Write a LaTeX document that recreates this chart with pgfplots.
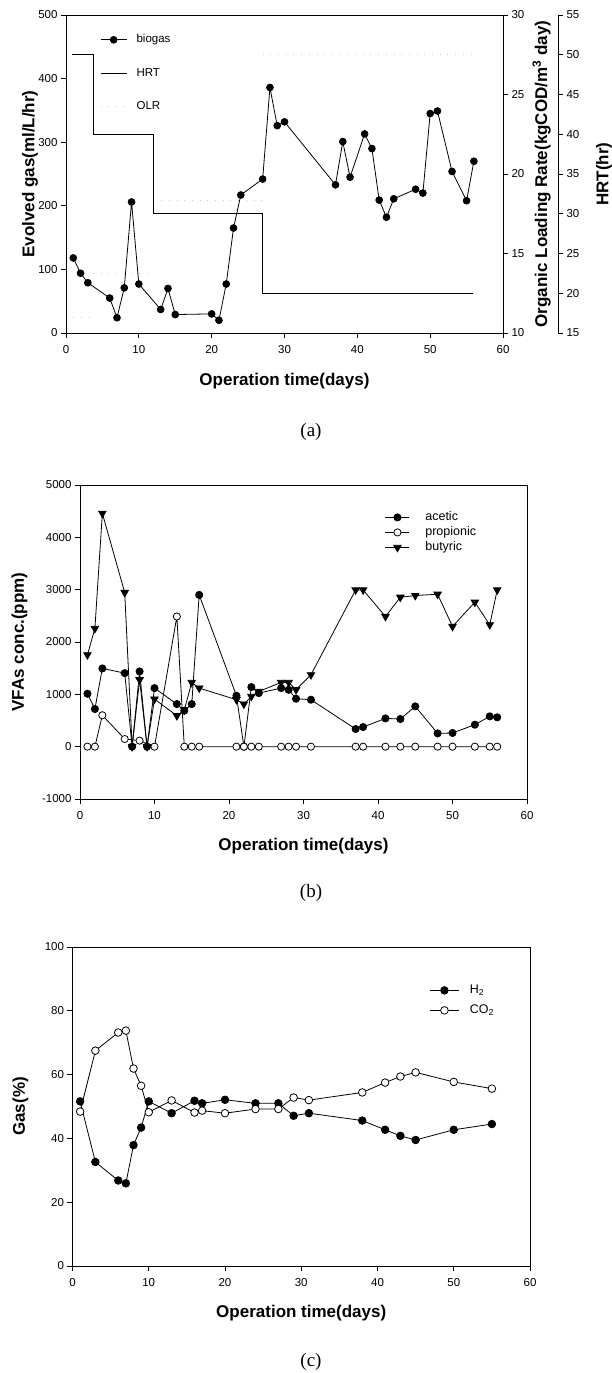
\documentclass[border=0pt]{standalone}
\usepackage{fontspec}
\setmainfont{Liberation Sans}
\newfontfamily\seriffont{Liberation Serif}
\usepackage{pgfplots}
\pgfplotsset{compat=1.18}

\pgfplotsset{
  panel/.style={
    scale only axis,
    anchor=south west,
    axis line style={line width=0.9pt},
    tick align=outside,
    major tick length=5pt,
    every tick/.style={black, line width=0.8pt},
    xtick pos=left, ytick pos=left,
    ticklabel style={font=\fontsize{11.5}{13}\selectfont},
    xticklabel style={yshift=-4pt},
    label style={font=\bfseries\fontsize{17}{20}\selectfont},
    /pgf/number format/assume math mode=true,
    legend cell align=left,
  },
  full/.style={black, line width=0.8pt, mark=*, mark size=3.5pt, mark options={solid, fill=black}},
  open/.style={black, line width=0.8pt, mark=*, mark size=3.5pt, mark options={solid, fill=white}},
  tri/.style={black, line width=0.8pt, mark=triangle*, mark size=4.3pt, mark options={solid, fill=black, rotate=180}},
  olr/.style={gray!40, line width=0.7pt, dash pattern=on 0.7pt off 7pt},
}

\begin{document}
\begin{tikzpicture}
\path[use as bounding box] (0pt,0pt) rectangle (611pt,1373pt);

% (a) biogas, HRT, OLR
\begin{axis}[panel,
  at={(66pt,1040pt)}, width=437pt, height=318pt,
  xmin=0, xmax=60, ymin=0, ymax=500,
  xtick={0,10,...,60}, ytick={0,100,...,500},
  xlabel={Operation time(days)}, ylabel={Evolved gas(ml/L/hr)},
  xlabel style={at={(axis description cs:0.5,-0.151)}, anchor=center},
  ylabel style={at={(axis description cs:-0.0824,0.5)}, anchor=center},
  legend image code/.code={\draw[mark repeat=2,mark phase=2,#1] plot coordinates {(0pt,0pt) (13pt,0pt) (26pt,0pt)};},
  legend style={at={(axis description cs:0.078,0.943)}, anchor=north west,
    draw=none, fill=none, font=\fontsize{11.5}{13}\selectfont,
    row sep=20.5pt, inner sep=0pt,
    nodes={inner sep=0.5pt, text height=9pt, text depth=3pt},
    /tikz/every odd column/.append style={column sep=9pt}},
]
\addplot[full, mark size=3.4pt] coordinates {
  (1,118) (2,94) (3,79) (6,55) (7,24) (8,71) (9,206) (10,77)
  (13,37) (14,70) (15,29) (20,30) (21,20) (22,77) (23,165) (24,217)
  (27,242) (28,386) (29,326) (30,332) (37,233) (38,301) (39,245)
  (41,313) (42,290) (43,209) (44,182) (45,211) (48,226) (49,220)
  (50,345) (51,349) (53,254) (55,208) (56,270)
};
\addlegendentry{biogas}
\addlegendimage{black, line width=0.8pt}
\addlegendentry{HRT}
\addlegendimage{olr}
\addlegendentry{OLR}
\end{axis}

\begin{axis}[panel,
  at={(66pt,1040pt)}, width=437pt, height=318pt,
  xmin=0, xmax=60, ymin=10, ymax=30,
  axis x line=none, axis y line*=right, ytick pos=right,
  ytick={10,15,...,30},
  ylabel={Organic Loading Rate(kgCOD/m\textsuperscript{3} day)},
  ylabel style={at={(axis description cs:1.0886,0.5)}, anchor=center},
]
\addplot[olr, jump mark left] coordinates {
  (1,11) (3.7,13.75) (12,18.33) (27,27.5) (56,27.5)
};
\end{axis}

\begin{axis}[panel,
  at={(66pt,1040pt)}, width=492pt, height=318pt,
  xmin=0, xmax=67.551, ymin=15, ymax=55,
  axis x line=none, axis y line*=right, ytick pos=right,
  ytick={15,20,...,55},
  ylabel={HRT(hr)},
  ylabel style={at={(axis description cs:1.0935,0.5)}, anchor=center},
]
\addplot[black, line width=0.8pt, const plot] coordinates {
  (0.8,50) (3.7,40) (12,30) (27,20) (55.9,20)
};
\end{axis}

% (b) VFAs
\begin{axis}[panel,
  at={(80pt,574pt)}, width=447pt, height=314pt,
  xmin=0, xmax=60, ymin=-1000, ymax=5000,
  xtick={0,10,...,60}, ytick={-1000,0,...,5000},
  yticklabels={-1000,0,1000,2000,3000,4000,5000},
  xlabel={Operation time(days)}, ylabel={VFAs conc.(ppm)},
  xlabel style={at={(axis description cs:0.5,-0.1497)}, anchor=center},
  ylabel style={at={(axis description cs:-0.1353,0.5)}, anchor=center},
  legend image code/.code={\draw[mark repeat=2,mark phase=2,#1] plot coordinates {(0pt,0pt) (12pt,0pt) (24pt,0pt)};},
  legend style={at={(axis description cs:0.682,0.918)}, anchor=north west,
    draw=none, fill=none, font=\fontsize{12.5}{14}\selectfont,
    row sep=2pt, inner sep=0pt,
    nodes={inner sep=0.5pt, text height=9pt, text depth=3pt},
    /tikz/every odd column/.append style={column sep=15pt}},
]
\addplot[full, mark size=3.6pt] coordinates {
  (1,1011) (2,719) (3,1495) (6,1405) (7,0) (8,1437) (9,0) (10,1119)
  (13,814) (14,687) (15,814) (16,2900) (21,973) (22,0) (23,1138)
  (24,1024) (27,1119) (28,1087) (29,916) (31,897) (37,337) (38,375)
  (41,540) (43,528) (45,770) (48,254) (50,261) (53,420) (55,579) (56,560)
};
\addlegendentry{acetic}
\addplot[open, mark size=3.6pt] coordinates {
  (1,0) (2,0) (3,600) (6,146) (8,115) (10,0) (13,2487) (14,0) (15,0)
  (16,0) (21,0) (22,0) (23,0) (24,0) (27,0) (28,0) (29,0) (31,0)
  (37,0) (38,0) (41,0) (43,0) (45,0) (48,0) (50,0) (53,0) (55,0) (56,0)
};
\addlegendentry{propionic}
\addplot[tri] coordinates {
  (1,1755) (2,2258) (3,4458) (6,2945) (7,0) (8,1278) (9,0) (10,909)
  (13,591) (14,700) (15,1227) (16,1119) (21,897) (22,814) (23,960)
  (24,1055) (27,1227) (28,1227) (29,1087) (31,1373) (37,2995) (38,2995)
  (41,2487) (43,2855) (45,2887) (48,2913) (50,2296) (53,2760) (55,2328) (56,2995)
};
\addlegendentry{butyric}
\end{axis}

% (c) gas composition
\begin{axis}[panel,
  at={(72.5pt,107pt)}, width=457.5pt, height=319pt,
  xmin=0, xmax=60, ymin=0, ymax=100,
  xtick={0,10,...,60}, ytick={0,20,...,100},
  xlabel={Operation time(days)}, ylabel={Gas(\%)},
  xlabel style={at={(axis description cs:0.5,-0.1473)}, anchor=center},
  ylabel style={at={(axis description cs:-0.1137,0.5)}, anchor=center},
  legend image code/.code={\draw[mark repeat=2,mark phase=2,#1] plot coordinates {(0pt,0pt) (14.5pt,0pt) (29pt,0pt)};},
  legend style={at={(axis description cs:0.78,0.885)}, anchor=north west,
    draw=none, fill=none, font=\fontsize{12.5}{14}\selectfont,
    row sep=7pt, inner sep=0pt,
    nodes={inner sep=0.5pt, text height=9pt, text depth=3pt},
    /tikz/every odd column/.append style={column sep=10pt}},
]
\addplot[full, mark size=3.8pt] coordinates {
  (1,51.6) (3,32.6) (6,26.8) (7,25.9) (8,37.9) (9,43.4) (10,51.6)
  (13,47.9) (16,51.8) (17,51.0) (20,52.1) (24,51.0) (27,51.0) (29,47.1)
  (31,47.9) (38,45.6) (41,42.7) (43,40.8) (45,39.5) (50,42.7) (55,44.5)
};
\addlegendentry{H\textsubscript{2}}
\addplot[open, mark size=3.8pt] coordinates {
  (1,48.4) (3,67.5) (6,73.2) (7,73.8) (8,61.9) (9,56.5) (10,48.2)
  (13,51.9) (16,48.1) (17,48.7) (20,47.9) (24,49.2) (27,49.2) (29,52.8)
  (31,52.0) (38,54.4) (41,57.5) (43,59.4) (45,60.7) (50,57.7) (55,55.6)
};
\addlegendentry{CO\textsubscript{2}}
\end{axis}

\node[font=\seriffont\fontsize{19}{22}\selectfont] at (311pt,941pt) {(a)};
\node[font=\seriffont\fontsize{19}{22}\selectfont] at (311pt,480pt) {(b)};
\node[font=\seriffont\fontsize{19}{22}\selectfont] at (311pt,11pt) {(c)};
\end{tikzpicture}
\end{document}
